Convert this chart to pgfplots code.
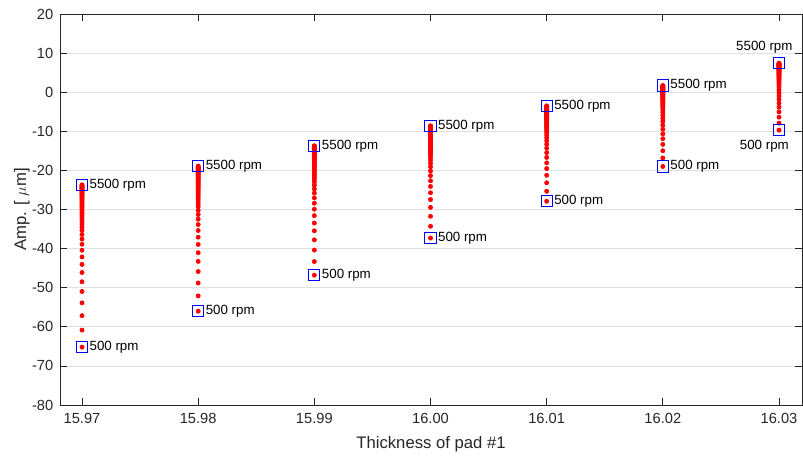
\documentclass[border=0pt]{standalone}
\usepackage{pgfplots}
\pgfplotsset{compat=1.18}
\usepackage{pgfplotstable}
\usepackage{fontspec}
\setmainfont{Liberation Sans}

% Amplitude vs. speed (500 to 5500 rpm, step 100) for seven pad thicknesses
\pgfplotstableread{
rpm  c1     c2     c3     c4     c5     c6     c7
500  -65.20 -56.00 -46.80 -37.30 -27.90 -19.00 -9.70
600  -60.84 -52.10 -43.32 -34.29 -25.34 -16.83 -7.90
700  -57.15 -48.80 -40.38 -31.73 -23.17 -14.98 -6.38
800  -53.87 -45.87 -37.76 -29.46 -21.24 -13.35 -5.03
900  -50.97 -43.27 -35.45 -27.46 -19.53 -11.90 -3.83
1000 -48.48 -41.05 -33.46 -25.73 -18.07 -10.66 -2.81
1100 -46.11 -38.93 -31.57 -24.10 -16.68 -9.48  -1.83
1200 -44.04 -37.08 -29.92 -22.66 -15.46 -8.44  -0.98
1300 -42.13 -35.37 -28.40 -21.34 -14.33 -7.49  -0.19
1400 -40.42 -33.85 -27.04 -20.17 -13.33 -6.64  0.51
1500 -38.89 -32.48 -25.81 -19.10 -12.43 -5.88  1.14
1600 -37.56 -31.29 -24.76 -18.19 -11.65 -5.21  1.69
1700 -36.40 -30.25 -23.83 -17.38 -10.97 -4.63  2.17
1800 -35.36 -29.33 -23.00 -16.66 -10.36 -4.12  2.59
1900 -34.64 -28.68 -22.42 -16.16 -9.93  -3.75  2.89
2000 -33.95 -28.06 -21.88 -15.69 -9.53  -3.41  3.18
2100 -33.33 -27.51 -21.38 -15.26 -9.16  -3.10  3.43
2200 -32.75 -26.99 -20.92 -14.86 -8.82  -2.81  3.67
2300 -32.21 -26.51 -20.49 -14.48 -8.50  -2.54  3.89
2400 -31.71 -26.06 -20.09 -14.14 -8.21  -2.30  4.10
2500 -31.25 -25.65 -19.72 -13.82 -7.94  -2.07  4.29
2600 -30.80 -25.24 -19.36 -13.51 -7.67  -1.84  4.48
2700 -30.34 -24.84 -19.00 -13.19 -7.40  -1.61  4.66
2800 -29.97 -24.50 -18.70 -12.93 -7.18  -1.43  4.82
2900 -29.59 -24.17 -18.40 -12.68 -6.96  -1.24  4.97
3000 -29.22 -23.83 -18.10 -12.42 -6.75  -1.05  5.13
3100 -28.89 -23.54 -17.84 -12.19 -6.55  -0.89  5.26
3200 -28.56 -23.24 -17.57 -11.96 -6.35  -0.72  5.40
3300 -28.22 -22.94 -17.31 -11.73 -6.16  -0.56  5.54
3400 -27.93 -22.68 -17.08 -11.53 -5.99  -0.41  5.66
3500 -27.64 -22.42 -16.84 -11.33 -5.82  -0.27  5.78
3600 -27.39 -22.20 -16.65 -11.15 -5.67  -0.14  5.88
3700 -27.10 -21.94 -16.41 -10.95 -5.50  0.00   6.00
3800 -26.85 -21.72 -16.22 -10.78 -5.35  0.13   6.10
3900 -26.61 -21.50 -16.02 -10.61 -5.21  0.25   6.20
4000 -26.40 -21.31 -15.85 -10.47 -5.09  0.35   6.29
4100 -26.15 -21.09 -15.65 -10.29 -4.94  0.48   6.39
4200 -25.94 -20.90 -15.49 -10.15 -4.82  0.58   6.48
4300 -25.73 -20.72 -15.32 -10.01 -4.70  0.69   6.56
4400 -25.53 -20.53 -15.16 -9.86  -4.57  0.79   6.65
4500 -25.36 -20.38 -15.02 -9.75  -4.48  0.87   6.72
4600 -25.15 -20.20 -14.86 -9.60  -4.35  0.98   6.80
4700 -24.99 -20.05 -14.73 -9.49  -4.26  1.06   6.87
4800 -24.78 -19.86 -14.56 -9.35  -4.13  1.16   6.96
4900 -24.61 -19.72 -14.43 -9.23  -4.04  1.24   7.02
5000 -24.45 -19.57 -14.30 -9.12  -3.94  1.33   7.09
5100 -24.28 -19.42 -14.16 -9.00  -3.84  1.41   7.16
5200 -24.16 -19.31 -14.06 -8.92  -3.77  1.47   7.21
5300 -23.99 -19.16 -13.93 -8.80  -3.67  1.56   7.28
5400 -23.82 -19.01 -13.80 -8.69  -3.57  1.64   7.35
5500 -23.70 -18.90 -13.70 -8.60  -3.50  1.70   7.40
}\amptable

% End points (500 rpm and 5500 rpm) of every thickness
\pgfplotstableread{
x     y
15.97 -65.20
15.97 -23.70
15.98 -56.00
15.98 -18.90
15.99 -46.80
15.99 -13.70
16.00 -37.30
16.00 -8.60
16.01 -27.90
16.01 -3.50
16.02 -19.00
16.02 1.70
16.03 -9.70
16.03 7.40
}\endpoints

\definecolor{axgray}{gray}{0.15}
\definecolor{gridgray}{gray}{0.88}

\begin{document}
\begin{tikzpicture}
\useasboundingbox (-45pt,-39pt) rectangle (557.25pt,303.75pt);
\begin{axis}[
  anchor=south west, at={(0,0)},
  scale only axis, width=556.5pt, height=293.25pt,
  xmin=15.968106, xmax=16.03198, ymin=-80, ymax=20,
  xtick={15.97,15.98,15.99,16.00,16.01,16.02,16.03},
  ytick={-80,-70,-60,-50,-40,-30,-20,-10,0,10,20},
  scaled x ticks=false,
  /pgf/number format/assume math mode=true,
  ymajorgrids, grid style={gridgray, line width=0.6pt},
  tick align=inside, major tick length=5pt,
  tick style={axgray, line width=0.6pt},
  axis line style={axgray, line width=0.6pt},
  ticklabel style={font=\fontsize{11}{13}\selectfont, text=axgray},
  xticklabel style={yshift=-2.5pt, /pgf/number format/.cd, fixed, fixed zerofill, precision=2},
  yticklabel style={xshift=-1.5pt},
  label style={font=\fontsize{12.5}{15}\selectfont, text=axgray},
  xlabel={Thickness of pad \#1},
  ylabel={Amp. [ $\mu$m]},
  xlabel style={yshift=-3pt},
  ylabel style={yshift=-5pt},
]
\foreach \c/\t in {c1/15.97, c2/15.98, c3/15.99, c4/16.00, c5/16.01, c6/16.02, c7/16.03} {
  \addplot[only marks, mark=*, mark size=1.6pt, red, mark options={fill=red, draw=red}]
    table[x expr=\t, y=\c] {\amptable};
}
\addplot[only marks, mark=square, mark size=4.2pt, blue, mark options={line width=0.8pt}]
  table[x=x, y=y] {\endpoints};

\begin{scope}[every node/.style={font=\fontsize{10}{12}\selectfont, inner sep=0pt}]
\node[anchor=west, xshift=5.5pt] at (axis cs:15.97,-23.70) {5500 rpm};
\node[anchor=west, xshift=5.5pt] at (axis cs:15.97,-65.20) {500 rpm};
\node[anchor=west, xshift=5.5pt] at (axis cs:15.98,-18.90) {5500 rpm};
\node[anchor=west, xshift=5.5pt] at (axis cs:15.98,-56.00) {500 rpm};
\node[anchor=west, xshift=5.5pt] at (axis cs:15.99,-13.70) {5500 rpm};
\node[anchor=west, xshift=5.5pt] at (axis cs:15.99,-46.80) {500 rpm};
\node[anchor=west, xshift=5.5pt] at (axis cs:16.00,-8.60) {5500 rpm};
\node[anchor=west, xshift=5.5pt] at (axis cs:16.00,-37.30) {500 rpm};
\node[anchor=west, xshift=5.5pt] at (axis cs:16.01,-3.50) {5500 rpm};
\node[anchor=west, xshift=5.5pt] at (axis cs:16.01,-27.90) {500 rpm};
\node[anchor=west, xshift=5.5pt] at (axis cs:16.02,1.70) {5500 rpm};
\node[anchor=west, xshift=5.5pt] at (axis cs:16.02,-19.00) {500 rpm};
\node[xshift=-11pt, yshift=12pt] at (axis cs:16.03,7.40) {5500 rpm};
\node[xshift=-11pt, yshift=-12pt] at (axis cs:16.03,-9.70) {500 rpm};
\end{scope}
\end{axis}
\end{tikzpicture}
\end{document}
